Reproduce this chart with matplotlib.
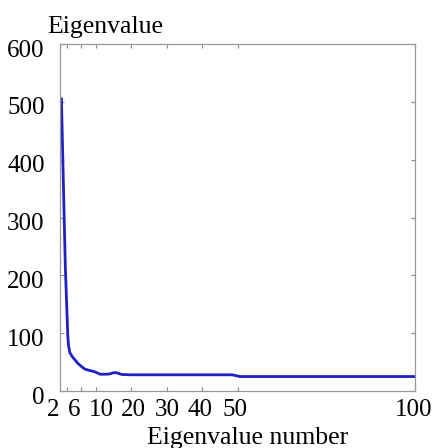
import matplotlib.pyplot as plt
from matplotlib.transforms import offset_copy

plt.rcParams['font.family'] = ['Liberation Serif', 'DejaVu Serif']

# curve (eigenvalue number, eigenvalue)
ev_num = [0.4, 1.5, 2.2, 2.4, 2.8, 3.5, 4.2, 5, 6.1, 7, 8, 9, 9.9, 11.3, 13, 14,
          15, 16, 17.4, 20, 30, 40, 48.5, 50.7, 60, 80, 100]
ev_val = [505, 215, 95, 78, 66, 59, 54, 48, 42, 38, 36, 34.5, 33, 29, 29, 29.5,
          31.5, 31.5, 28.5, 28, 28, 28, 28, 25, 25, 25, 25]

xticks = [2, 6, 10, 20, 30, 40, 50, 100]
xtick_labels = ['2', '6', '10', '20', '30', '40', '50', '100']
yticks = [0, 100, 200, 300, 400, 500, 600]

fig = plt.figure(figsize=(4.36, 4.48), dpi=100)
ax = fig.add_axes([60 / 436, 1 - 391 / 448, 355 / 436, 347 / 448])

ax.plot(ev_num, ev_val, color='#2020c4', lw=2.0)

ax.set_xlim(0, 100)
ax.set_ylim(0, 600)
ax.set_xticks(xticks)
ax.set_yticks(yticks)
ax.set_xticklabels([])
ax.tick_params(direction='in', length=3, width=0.8, color='#888888',
               top=True, right=True, labelsize=18)
ax.tick_params(axis='y', pad=11)
for lab in ax.get_yticklabels():
    lab.set_transform(offset_copy(lab.get_transform(), fig=fig, x=0, y=-4, units='dots'))
for s in ax.spines.values():
    s.set_color('#999999')
    s.set_linewidth(0.9)

# x tick labels are crowded in the original, nudge the first ones apart
nudge = [-14, -7, 6, 2, 1, -2, -2, -1]
for v, t, dx in zip(xticks, xtick_labels, nudge):
    tr = offset_copy(ax.get_xaxis_transform(), fig=fig, x=dx, y=-25, units='dots')
    ax.text(v, 0, t, transform=tr, ha='center', va='baseline', fontsize=18)

fig.text(47 / 436, 1 - 33 / 448, 'Eigenvalue', ha='left', va='baseline', fontsize=18.5)
fig.text(248 / 436, 4 / 448, 'Eigenvalue number', ha='center', va='baseline', fontsize=18.5)

fig.savefig('out.png', dpi=100)
